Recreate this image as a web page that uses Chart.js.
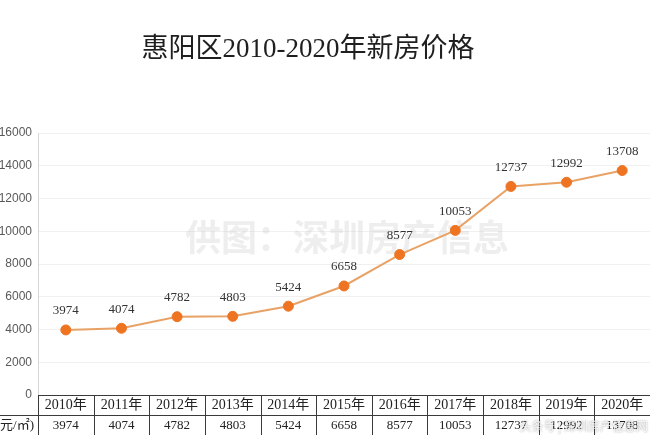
<!DOCTYPE html>
<html>
<head>
<meta charset="utf-8">
<script src="https://cdn.jsdelivr.net/npm/chart.js@4/dist/chart.umd.min.js"></script>
<style>
  html, body { margin: 0; padding: 0; background: #fff; }
</style>
</head>
<body>
<canvas id="myChart" width="650" height="435"></canvas>
<script>
var titleText  = "惠阳区2010-2020年新房价格";
var years      = ["2010年", "2011年", "2012年", "2013年", "2014年", "2015年", "2016年", "2017年", "2018年", "2019年", "2020年"];
var prices     = [3974, 4074, 4782, 4803, 5424, 6658, 8577, 10053, 12737, 12992, 13708];
var yMin       = 0;
var yMax       = 16000;
var yStep      = 2000;
var rowLabel   = "均价(元/㎡)";
var watermark  = "供图：深圳房产信息";
var cornerMark = "头条号 | 深圳房产信息网";

var serif = "'Liberation Serif', 'Noto Sans CJK SC', serif";

// -------------------------------------------------------
// title, drawn a little left of centre like the source
// -------------------------------------------------------
var titlePlugin = {
  id: "bigTitle",
  afterDraw: function(chart) {
    var ctx = chart.ctx;
    ctx.save();
    ctx.font = "27px " + serif;
    ctx.fillStyle = "#1f1f1f";
    ctx.textAlign = "center";
    ctx.textBaseline = "middle";
    ctx.fillText(titleText, 308, 50);
    ctx.restore();
  }
};

// -------------------------------------------------------
// faint watermark behind the line
// -------------------------------------------------------
var watermarkPlugin = {
  id: "watermark",
  beforeDatasetsDraw: function(chart) {
    var ctx = chart.ctx;
    ctx.save();
    ctx.font = "bold 36px 'Noto Sans CJK SC', sans-serif";
    ctx.fillStyle = "rgba(200,200,200,0.3)";
    ctx.textAlign = "center";
    ctx.textBaseline = "middle";
    ctx.fillText(watermark, 347, 237);
    ctx.restore();
  }
};

// -------------------------------------------------------
// value labels above each point
// -------------------------------------------------------
var labelPlugin = {
  id: "pointLabels",
  afterDatasetsDraw: function(chart) {
    var ctx = chart.ctx;
    var meta = chart.getDatasetMeta(0);
    ctx.save();
    ctx.font = "13px " + serif;
    ctx.fillStyle = "#333333";
    ctx.textAlign = "center";
    ctx.textBaseline = "middle";
    for (var i = 0; i < meta.data.length; i++) {
      var p = meta.data[i];
      ctx.fillText(String(prices[i]), p.x, p.y - 19);
    }
    ctx.restore();
  }
};

// -------------------------------------------------------
// data table under the plot
// -------------------------------------------------------
var tablePlugin = {
  id: "dataTable",
  afterDraw: function(chart) {
    var ctx  = chart.ctx;
    var x    = chart.scales.x;
    var area = chart.chartArea;
    var top  = Math.round(area.bottom);
    var mid  = top + 20;
    var bot  = top + 40;
    var half = (x.getPixelForValue(1) - x.getPixelForValue(0)) / 2;

    ctx.save();
    ctx.strokeStyle = "#3a3a3a";
    ctx.lineWidth = 1;
    ctx.beginPath();
    ctx.moveTo(area.left, top + 0.5);
    ctx.lineTo(chart.width, top + 0.5);
    ctx.moveTo(0, mid + 0.5);
    ctx.lineTo(chart.width, mid + 0.5);
    for (var i = 0; i <= years.length; i++) {
      var bx = Math.round(x.getPixelForValue(i) - half) + 0.5;
      ctx.moveTo(bx, top);
      ctx.lineTo(bx, bot);
    }
    ctx.stroke();

    ctx.textAlign = "center";
    ctx.textBaseline = "middle";
    ctx.fillStyle = "#222222";
    for (var j = 0; j < years.length; j++) {
      var cx = x.getPixelForValue(j);
      ctx.font = "14px " + serif;
      ctx.fillText(years[j], cx, top + 10.5);
      ctx.font = "13px " + serif;
      ctx.fillText(String(prices[j]), cx, mid + 10.5);
    }

    ctx.textAlign = "right";
    ctx.font = "13px " + serif;
    ctx.fillText(rowLabel, area.left - 4, mid + 10.5);

    // corner mark from the source picture
    ctx.font = "12px 'Noto Sans CJK SC', sans-serif";
    ctx.textAlign = "right";
    ctx.shadowColor = "rgba(0,0,0,0.5)";
    ctx.shadowBlur = 2;
    ctx.fillStyle = "rgba(255,255,255,0.8)";
    ctx.fillText(cornerMark, 648, mid + 11);
    ctx.restore();
  }
};

var ctx = document.getElementById("myChart").getContext("2d");

var myChart = new Chart(ctx, {
  type: "line",
  data: {
    labels: years,
    datasets: [
      {
        data: prices,
        borderColor: "#E8A266",
        borderWidth: 2,
        pointRadius: 5,
        pointBackgroundColor: "#EE7422",
        pointBorderColor: "#EE7422",
        pointBorderWidth: 1,
        fill: false,
        tension: 0
      }
    ]
  },
  options: {
    responsive: false,
    animation: false,
    layout: {
      autoPadding: false,
      padding: { left: 0, right: 0, top: 133, bottom: 40 }
    },
    plugins: {
      legend: { display: false },
      tooltip: { enabled: false },
      title: { display: false }
    },
    scales: {
      x: {
        display: false,
        offset: true
      },
      y: {
        min: yMin,
        max: yMax,
        afterFit: function(scale) { scale.width = 38; },
        ticks: {
          stepSize: yStep,
          padding: 6,
          color: "#595959",
          font: { family: "'Liberation Sans', sans-serif", size: 12 },
          callback: function(value) { return String(value); }
        },
        grid: {
          color: "#F0F0F0",
          drawTicks: false
        },
        border: { color: "#D6D6D6" }
      }
    }
  },
  plugins: [watermarkPlugin, labelPlugin, tablePlugin, titlePlugin]
});
</script>
</body>
</html>
